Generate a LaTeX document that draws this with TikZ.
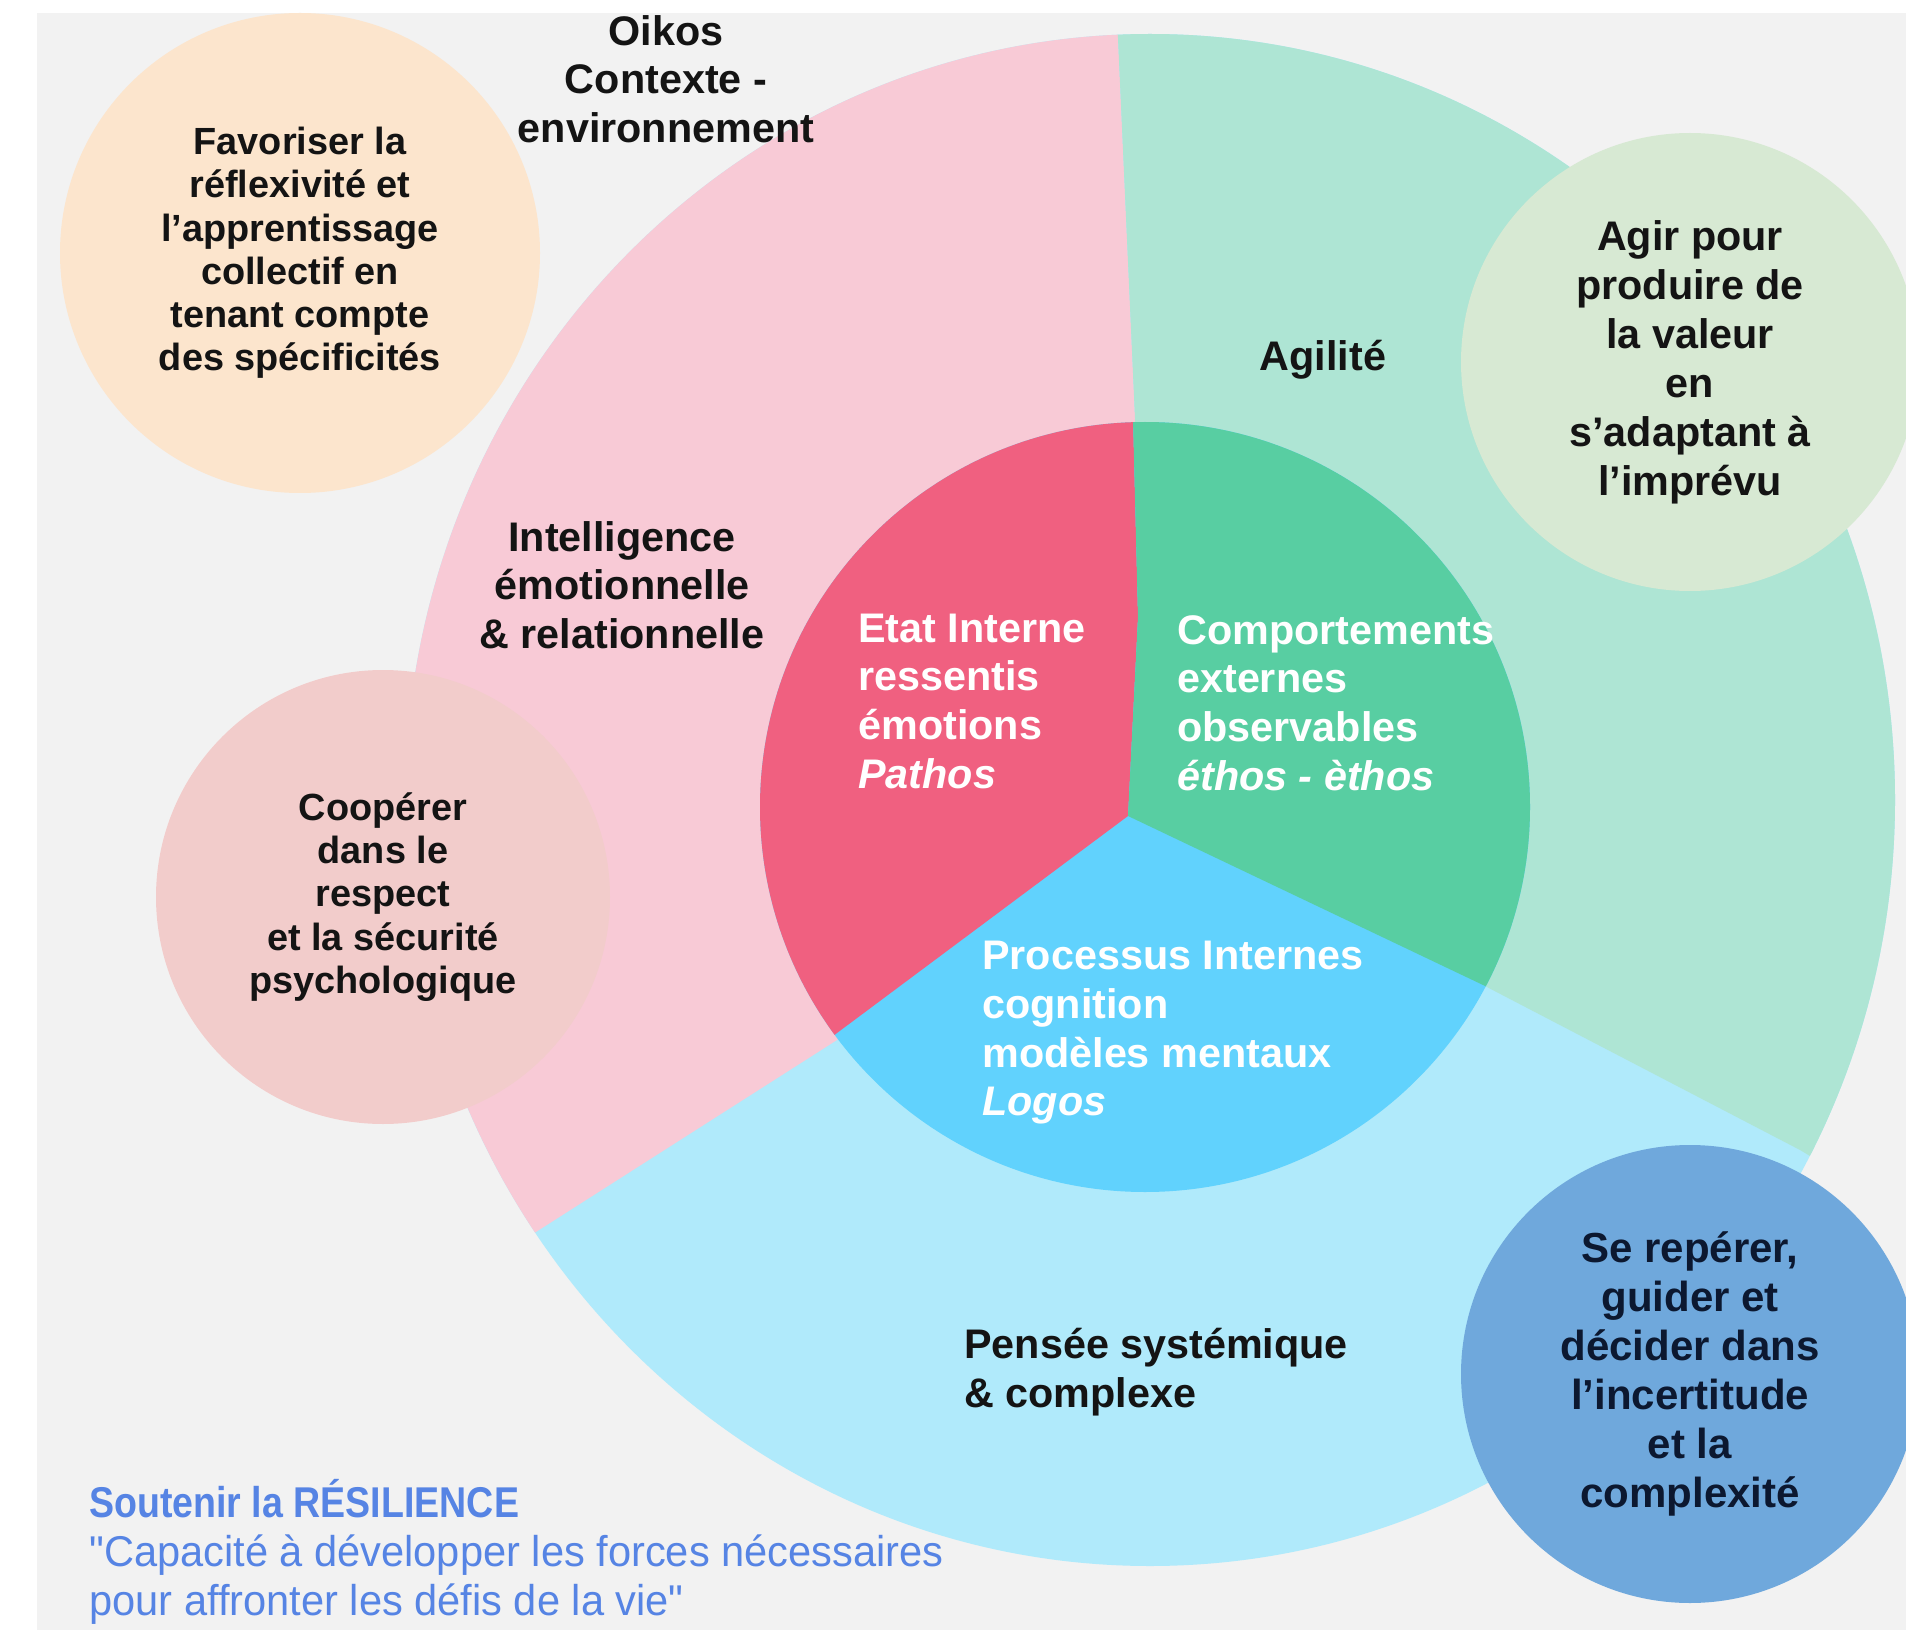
\documentclass[tikz,border=0pt]{standalone}
\usepackage{fontspec}
\setmainfont{Liberation Sans}[Ligatures=TeXOff]

\tikzset{
  lbl/.style={inner sep=0.75pt, align=center, text={rgb,255:red,20;green,20;blue,20}, font=\bfseries\fontsize{31}{36.5}\selectfont},
  bubble/.style={circle, inner sep=0pt, align=center, text={rgb,255:red,20;green,20;blue,20}, font=\bfseries\fontsize{28.4}{32.4}\selectfont},
  inside/.style={anchor=west, inner sep=0.75pt, align=left, text=white, font=\bfseries\fontsize{31}{36.5}\selectfont},
  note/.style={anchor=west, inner sep=0.75pt, align=left, text={rgb,255:red,86;green,132;blue,228}, font=\fontsize{32.3}{36.5}\selectfont}
}

\begin{document}
\begin{tikzpicture}[x=0.75pt,y=0.75pt,yscale=-1,xscale=1]
\useasboundingbox (0,0) rectangle (1906,1640);
\fill [white] (0,0) rectangle (1906,1640);
\clip (37,13) rectangle (1906,1630);

%Shape: Rectangle [background]
\fill [fill={rgb, 255:red, 242; green, 242; blue, 242 }] (37,13) rectangle (1906,1630);

%Shape: Ellipse [outer ring]
\begin{scope}
\clip (1150,800) ellipse [x radius=745, y radius=766];
\fill [fill={rgb, 255:red, 176; green, 234; blue, 251 }] (380,20) rectangle (1920,1580);
%Shape: Polygon [oikos sector]
\fill [fill={rgb, 255:red, 248; green, 202; blue, 214 }] (1128,816) -- (1135,418) -- (1118,38) -- (1116,-10) -- (-10,-10) -- (-10,1400) -- (300,1382) -- (550,1223) -- (837,1040) -- cycle ;
%Shape: Polygon [agilite sector]
\fill [fill={rgb, 255:red, 174; green, 229; blue, 212 }] (1128,816) -- (1135,418) -- (1118,38) -- (1116,-10) -- (1950,-10) -- (1950,1240) -- (1800,1150) -- (1483,985) -- cycle ;
\end{scope}

%Shape: Circle [inner disc]
\begin{scope}
\clip (1145,807) circle [radius=385];
\fill [fill={rgb, 255:red, 97; green, 210; blue, 253 }] (700,380) rectangle (1600,1250);
%Shape: Polygon [pathos]
\fill [fill={rgb, 255:red, 240; green, 96; blue, 128 }] (1128,816) -- (837,1033) -- (740,1110) -- (740,380) -- (1133,380) -- (1133,418) -- (1138,617) -- cycle ;
%Shape: Polygon [ethos]
\fill [fill={rgb, 255:red, 88; green, 206; blue, 162 }] (1128,816) -- (1483,985) -- (1570,1027) -- (1570,380) -- (1133,380) -- (1133,418) -- (1138,617) -- cycle ;
\end{scope}

% Text Node
\draw (666,79) node (oikos) [lbl] {Oikos\\Contexte -\\environnement};
% Text Node
\draw (1323,360) node (agilite) [lbl] {Agilité};
% Text Node
\draw (622,585) node (intelligence) [lbl] {Intelligence\\émotionnelle\\\& relationnelle};
% Text Node
\draw (857,701) node (pathos) [inside] {Etat Interne\\ressentis\\émotions\\{\itshape Pathos}};
% Text Node
\draw (1176,703) node (ethos) [inside] {Comportements\\externes\\observables\\{\itshape éthos - èthos}};
% Text Node
\draw (981,1033) node (logos) [inside] {Processus Internes\\cognition\\modèles mentaux\\{\itshape Logos}};
% Text Node
\draw (963,1372) node (systemique) [lbl, anchor=west, align=left] {Pensée systémique\\\& complexe};

%Shape: Circle [bubbles]
\node (reflexivite) [bubble, fill={rgb, 255:red, 252; green, 229; blue, 205 }, minimum size=360pt] at (300,253) {Favoriser la\\réflexivité et\\l’apprentissage\\collectif en\\tenant compte\\des spécificités};
\node (cooperer) [bubble, fill={rgb, 255:red, 242; green, 204; blue, 203 }, minimum size=340.5pt] at (383,897) {Coopérer\\dans le\\respect\\et la sécurité\\psychologique};
\node (agir) [bubble, fill={rgb, 255:red, 215; green, 233; blue, 211 }, minimum size=343.5pt, font=\bfseries\fontsize{31}{36.7}\selectfont] at (1690,362) {Agir pour\\produire de\\la valeur\\en\\s’adaptant à\\l’imprévu};
\node (reperer) [bubble, fill={rgb, 255:red, 111; green, 168; blue, 220 }, minimum size=343.5pt, text={rgb,255:red,12;green,24;blue,48}, font=\bfseries\fontsize{31.5}{36.7}\selectfont] at (1690,1374) {Se repérer,\\guider et\\décider dans\\l’incertitude\\et la\\complexité};

% Text Node
\draw (88,1552) node (resilience) [note] {\scalebox{0.872}[1]{\bfseries Soutenir la RÉSILIENCE}\\\scalebox{0.966}[1]{"Capacité à développer les forces nécessaires}\\\scalebox{0.966}[1]{pour affronter les défis de la vie"}};

\end{tikzpicture}
\end{document}
